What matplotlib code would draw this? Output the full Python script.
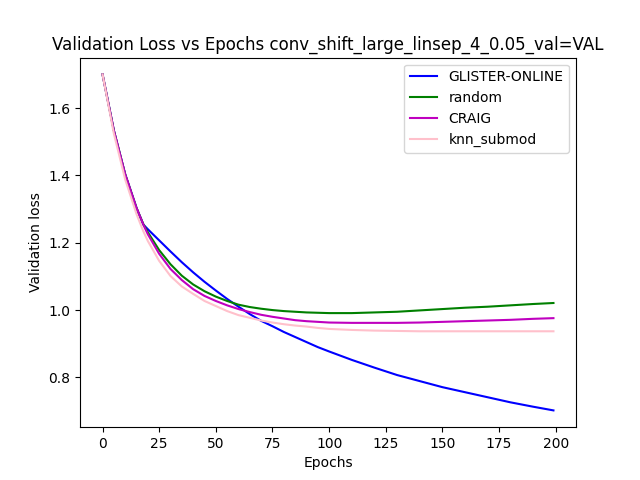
import matplotlib
matplotlib.use("Agg")
import matplotlib.pyplot as plt

epochs = [0, 5, 10, 15, 18, 20, 25, 30, 35, 40, 45, 50, 55, 60, 65, 70, 75, 80, 85, 90, 95,
          100, 110, 120, 130, 140, 150, 160, 170, 180, 190, 199]

glister = [1.700, 1.533, 1.403, 1.303, 1.254, 1.240, 1.207, 1.174, 1.142, 1.112, 1.084,
           1.058, 1.033, 1.010, 0.988, 0.968, 0.952, 0.935, 0.920, 0.905, 0.890,
           0.877, 0.852, 0.829, 0.807, 0.789, 0.771, 0.756, 0.741, 0.726, 0.713, 0.702]
random_ = [1.700, 1.533, 1.403, 1.303, 1.255, 1.231, 1.178, 1.136, 1.102, 1.076, 1.056,
           1.040, 1.027, 1.016, 1.009, 1.004, 1.000, 0.997, 0.995, 0.993, 0.992,
           0.991, 0.991, 0.993, 0.995, 0.999, 1.003, 1.007, 1.010, 1.014, 1.018, 1.021]
craig = [1.700, 1.533, 1.403, 1.303, 1.254, 1.225, 1.167, 1.122, 1.089, 1.062, 1.042,
         1.027, 1.014, 1.003, 0.994, 0.986, 0.980, 0.975, 0.970, 0.967, 0.965,
         0.963, 0.962, 0.962, 0.962, 0.963, 0.965, 0.967, 0.969, 0.971, 0.974, 0.976]
knn_submod = [1.700, 1.524, 1.388, 1.285, 1.234, 1.205, 1.146, 1.101, 1.070, 1.048, 1.027,
              1.012, 0.997, 0.985, 0.977, 0.969, 0.963, 0.958, 0.954, 0.951, 0.947,
              0.944, 0.941, 0.939, 0.938, 0.937, 0.937, 0.937, 0.937, 0.937, 0.937, 0.937]

fig, ax = plt.subplots(figsize=(6.4, 4.8), dpi=100)
ax.plot(epochs, glister, color="blue", label="GLISTER-ONLINE")
ax.plot(epochs, random_, color="green", label="random")
ax.plot(epochs, craig, color="m", label="CRAIG")
ax.plot(epochs, knn_submod, color="pink", label="knn_submod")
ax.set_xlabel("Epochs")
ax.set_ylabel("Validation loss")
ax.set_title("Validation Loss vs Epochs conv_shift_large_linsep_4_0.05_val=VAL")
ax.legend(loc="upper right")
plt.savefig("out.png")
